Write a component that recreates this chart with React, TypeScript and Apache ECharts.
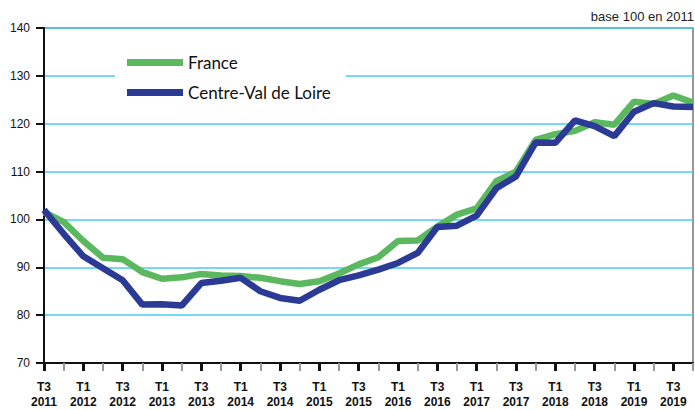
import React, { useEffect, useRef } from "react";
import * as echarts from "echarts";

const quarters = [
  "T3\n2011", "T4\n2011",
  "T1\n2012", "T2\n2012", "T3\n2012", "T4\n2012",
  "T1\n2013", "T2\n2013", "T3\n2013", "T4\n2013",
  "T1\n2014", "T2\n2014", "T3\n2014", "T4\n2014",
  "T1\n2015", "T2\n2015", "T3\n2015", "T4\n2015",
  "T1\n2016", "T2\n2016", "T3\n2016", "T4\n2016",
  "T1\n2017", "T2\n2017", "T3\n2017", "T4\n2017",
  "T1\n2018", "T2\n2018", "T3\n2018", "T4\n2018",
  "T1\n2019", "T2\n2019", "T3\n2019", "T4\n2019",
];

const france = [
  101.5, 99.5, 95.5, 92.0, 91.7, 89.0, 87.6, 87.9, 88.6, 88.3,
  88.2, 87.8, 87.1, 86.5, 87.1, 88.7, 90.6, 92.1, 95.5, 95.6,
  98.5, 101.0, 102.3, 108.0, 110.0, 116.6, 117.8, 118.5, 120.3, 119.8,
  124.6, 124.1, 125.9, 124.4,
];

const centre = [
  102.0, 97.0, 92.3, 89.8, 87.3, 82.2, 82.3, 82.0, 86.7, 87.2,
  87.8, 85.0, 83.6, 83.0, 85.3, 87.3, 88.3, 89.5, 90.9, 93.0,
  98.4, 98.7, 100.8, 106.5, 109.0, 116.1, 116.0, 120.7, 119.5, 117.4,
  122.5, 124.3, 123.6, 123.5,
];

const yTicks = { min: 70, max: 140, interval: 10 };

export default function App() {
  const ref = useRef<HTMLDivElement>(null);
  useEffect(() => {
    if (!ref.current) return;
    const chart = echarts.init(ref.current, undefined, { renderer: "svg" });
    chart.setOption({
      animation: false,
      backgroundColor: "#ffffff",
      textStyle: { fontFamily: "Liberation Sans, Arial, sans-serif" },
      graphic: [
        {
          type: "text",
          right: 1,
          top: 10,
          style: {
            text: "base 100 en 2011",
            fontSize: 13,
            fontFamily: "Liberation Sans, Arial, sans-serif",
            fill: "#222",
          },
        },
      ],
      grid: {
        left: 44,
        right: 2,
        top: 28,
        bottom: 45,
        show: true,
        borderColor: "#777",
        borderWidth: 1.5,
        backgroundColor: "transparent",
      },
      legend: {
        orient: "vertical",
        left: 115,
        top: 46,
        padding: [8, 15, 8, 12],
        backgroundColor: "#ffffff",
        itemWidth: 56,
        itemHeight: 7,
        itemGap: 13,
        icon: "rect",
        textStyle: { fontFamily: "Lato, sans-serif", fontSize: 17, color: "#111" },
        data: ["France", "Centre-Val de Loire"],
      },
      xAxis: [
        {
          type: "category",
          position: "bottom",
          boundaryGap: false,
          data: quarters,
          axisLine: { show: true, lineStyle: { color: "#111", width: 2 } },
          axisTick: {
            show: true,
            interval: 0,
            length: 8,
            lineStyle: { color: "#999", width: 2 },
          },
          axisLabel: {
            interval: 1,
            margin: 16,
            fontSize: 12,
            fontWeight: "bold",
            lineHeight: 15.5,
            color: "#111",
            fontFamily: "Liberation Sans, Arial, sans-serif",
          },
          splitLine: { show: false },
        },
        {
          type: "category",
          position: "bottom",
          boundaryGap: false,
          data: quarters,
          axisLine: { show: false },
          axisTick: {
            show: true,
            interval: 1,
            length: 8,
            lineStyle: { color: "#111", width: 3 },
          },
          axisLabel: { show: false },
          splitLine: { show: false },
        },
      ],
      yAxis: {
        type: "value",
        min: yTicks.min,
        max: yTicks.max,
        interval: yTicks.interval,
        axisLine: { show: true, lineStyle: { color: "#111", width: 2 } },
        axisTick: { show: true, length: 8, lineStyle: { color: "#111", width: 2 } },
        axisLabel: {
          margin: 14,
          fontSize: 12,
          color: "#111",
          fontFamily: "Liberation Sans, Arial, sans-serif",
        },
        splitLine: { show: true, lineStyle: { color: "#44ccf5", width: 1.5 } },
      },
      series: [
        {
          name: "France",
          type: "line",
          data: france,
          symbol: "none",
          color: "#5cb85f",
          lineStyle: { color: "#5cb85f", width: 6.5 },
        },
        {
          name: "Centre-Val de Loire",
          type: "line",
          data: centre,
          symbol: "none",
          color: "#2b3a94",
          lineStyle: { color: "#2b3a94", width: 6.5 },
        },
      ],
    });
    return () => chart.dispose();
  }, []);
  return <div ref={ref} style={{ width: 695, height: 410, position: "fixed", left: 0, top: 0 }} />;
}
